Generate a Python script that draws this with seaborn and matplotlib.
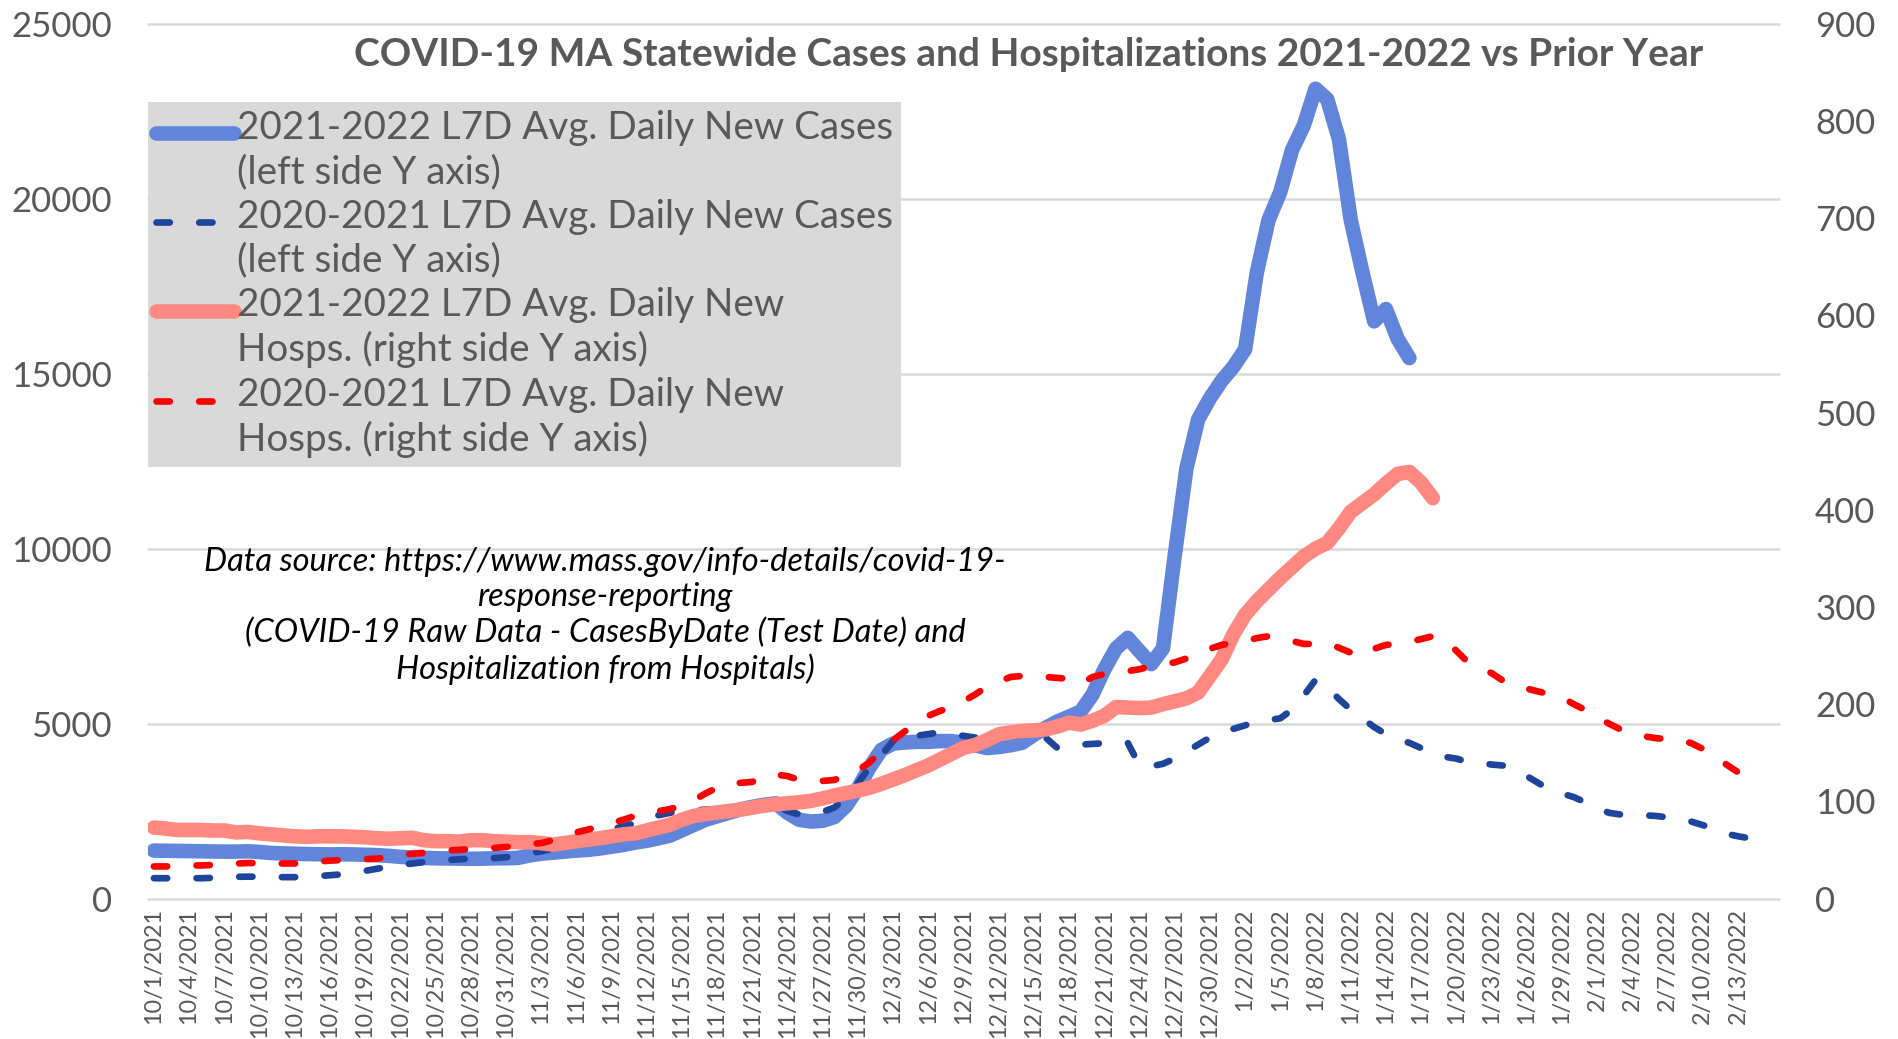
"""COVID-19 MA statewide cases and hospitalizations, 2021-2022 vs prior year."""

import matplotlib

matplotlib.use("Agg")
import matplotlib.pyplot as plt
import numpy as np
import pandas as pd
import seaborn as sns
from matplotlib.legend_handler import HandlerLine2D
from matplotlib.lines import Line2D

W, H = 1898, 1039
GRAY = "#595959"

# daily categories, 10/1/2021 .. 2/16/2022
DATES = pd.date_range("2021-10-01", "2022-02-16", freq="D")

# L7D avg daily new cases, 2021-2022 (left axis)
cases_2122 = [
    1370, 1365, 1360, 1355, 1350, 1345, 1340, 1340, 1350, 1330,
    1300, 1290, 1280, 1270, 1265, 1260, 1265, 1260, 1250, 1240,
    1220, 1190, 1170, 1160, 1150, 1145, 1140, 1135, 1140, 1150,
    1150, 1160, 1230, 1280, 1310, 1340, 1370, 1390, 1430, 1480,
    1530, 1600, 1650, 1720, 1800, 1950, 2100, 2250, 2350, 2450,
    2550, 2620, 2680, 2720, 2450, 2250, 2200, 2220, 2330, 2650,
    3150, 3750, 4250, 4430, 4460, 4480, 4480, 4500, 4500, 4450,
    4380, 4300, 4330, 4380, 4450, 4680, 4880, 5060, 5200, 5350,
    5830, 6550, 7150, 7450, 7070, 6700, 7150, 9800, 12300, 13700,
    14300, 14800, 15200, 15700, 17900, 19400, 20200, 21400, 22100, 23150,
    22850, 21700, 19400, 17900, 16500, 16850, 16000, 15450,
]

# L7D avg daily new cases, 2020-2021 (left axis)
cases_2021 = [
    580, 580, 580, 580, 580, 590, 600, 620, 625, 620,
    615, 610, 610, 620, 640, 665, 690, 740, 790, 850,
    910, 960, 1000, 1040, 1080, 1100, 1120, 1140, 1150, 1155,
    1180, 1230, 1290, 1350, 1420, 1500, 1600, 1720, 1850, 1980,
    2060, 2150, 2300, 2380, 2450, 2490, 2520, 2540, 2560, 2600,
    2650, 2700, 2700, 2650, 2500, 2400, 2420, 2480, 2600, 2900,
    3300, 3750, 4100, 4500, 4750, 4650, 4700, 4750, 4700, 4650,
    4600, 4600, 4600, 4650, 4650, 4650, 4600, 4300, 4350, 4400,
    4420, 4440, 4450, 4450, 3800, 3780, 3850, 4000, 4200, 4400,
    4600, 4750, 4850, 4950, 5050, 5100, 5150, 5400, 5800, 6250,
    6050, 5700, 5400, 5150, 4900, 4700, 4550, 4450, 4300, 4150,
    4050, 4000, 3900, 3870, 3830, 3800, 3700, 3500, 3300, 3100,
    3000, 2900, 2750, 2600, 2450, 2400, 2390, 2380, 2360, 2320,
    2280, 2200, 2100, 1980, 1850, 1780, 1720, 1640,
]

# L7D avg daily new hospitalizations, 2021-2022 (right axis)
hosp_2122 = [
    73, 72, 70.5, 70.5, 70.5, 70, 70, 68, 68.5, 67,
    66, 65, 64, 63.5, 64, 64, 64, 63.5, 63, 62,
    61.5, 62, 62.5, 60, 59, 59, 58.5, 60, 60, 59,
    58.5, 58, 58, 57, 55.5, 57, 59, 60.5, 62, 64,
    66, 67, 70, 73, 76, 81, 85, 87, 88.5, 90,
    91.5, 93.5, 95.5, 97, 98, 99, 100.5, 103, 106, 108.5,
    111, 114, 118, 122.5, 127, 132, 137, 143, 149, 155,
    158, 163, 169, 171, 172.5, 173, 174, 177, 181, 179,
    183, 188, 197, 196.5, 196, 196.5, 200, 203, 206, 212,
    229, 246, 272, 292, 306, 318, 330, 341, 352, 360,
    366, 381, 398, 407, 416, 427, 437, 439, 428, 412,
]

# L7D avg daily new hospitalizations, 2020-2021 (right axis)
hosp_2021 = [
    33, 33, 33.5, 34, 34, 34.5, 35, 36, 36.5, 36.5,
    36, 36, 36, 36.5, 38, 39, 39.5, 40, 40.5, 41,
    43, 45, 46, 47, 48.5, 49.5, 50, 51, 51.5, 52,
    53, 54.5, 56, 57, 60, 64, 68, 71, 74, 77.5,
    81, 85, 88.5, 90, 92, 96, 101, 108, 114, 118.5,
    119, 120, 126, 127.5, 126, 122, 121, 121, 122, 127,
    132, 140, 152, 163, 172, 181, 188, 193, 197, 203,
    210, 218, 223, 228, 229, 229, 228, 227, 226, 221,
    228, 231, 232, 234, 236, 239, 241, 243, 247, 250,
    257, 261, 263, 265, 268, 270, 268, 265, 262, 262,
    263, 258, 253, 249, 257, 261, 262, 264, 267, 270,
    266, 255, 243, 237, 232, 224, 219, 216, 213, 210,
    207, 200, 194, 187, 180, 174, 170, 167, 165, 164,
    163, 160, 154, 147, 138, 130,
]

LABELS = [
    "2021-2022 L7D Avg. Daily New Cases\n(left side Y axis)",
    "2020-2021 L7D Avg. Daily New Cases\n(left side Y axis)",
    "2021-2022 L7D Avg. Daily New\nHosps. (right side Y axis)",
    "2020-2021 L7D Avg. Daily New\nHosps. (right side Y axis)",
]
TITLE = "COVID-19 MA Statewide Cases and Hospitalizations 2021-2022 vs Prior Year"
SOURCE = ("Data source: https://www.mass.gov/info-details/covid-19-\n"
          "response-reporting\n"
          "(COVID-19 Raw Data - CasesByDate (Test Date) and\n"
          "Hospitalization from Hospitals)")

BLUE = "#6285dc"
NAVY = "#1f449c"
SALMON = "#ff8880"
RED = "#ff0000"


class FirstLineHandler(HandlerLine2D):
    """Put the legend sample level with the first line of a two-line label."""

    def __init__(self, shift, **kw):
        super().__init__(**kw)
        self.shift = shift

    def create_artists(self, legend, orig_handle, xdescent, ydescent,
                       width, height, fontsize, trans):
        arts = super().create_artists(legend, orig_handle, xdescent, ydescent,
                                      width, height, fontsize, trans)
        for a in arts:
            a.set_ydata(np.asarray(a.get_ydata(), dtype=float) + self.shift)
        return arts


def frame(vals):
    return pd.DataFrame({"day": np.arange(len(vals)), "value": vals})


def main() -> None:
    sns.set_theme(style="white")
    plt.rcParams["font.family"] = ["Lato", "DejaVu Sans"]

    fig = plt.figure(figsize=(W / 100, H / 100), dpi=100)
    ax = fig.add_axes([148 / W, 1 - 898.5 / H, (1779 - 148) / W, (898.5 - 24) / H])
    ax2 = ax.twinx()

    solid = dict(linewidth=10.5, solid_capstyle="round", solid_joinstyle="round")
    dashed = dict(linewidth=4.8, linestyle=(0, (2.0, 4.4)),
                  dash_capstyle="round", dash_joinstyle="round")

    sns.lineplot(data=frame(cases_2122), x="day", y="value", ax=ax, color=BLUE,
                 estimator=None, legend=False, **solid)
    sns.lineplot(data=frame(cases_2021), x="day", y="value", ax=ax, color=NAVY,
                 estimator=None, legend=False, **dashed)
    sns.lineplot(data=frame(hosp_2122), x="day", y="value", ax=ax2, color=SALMON,
                 estimator=None, legend=False, **solid)
    sns.lineplot(data=frame(hosp_2021), x="day", y="value", ax=ax2, color=RED,
                 estimator=None, legend=False, **dashed)

    ax.set_xlim(-0.5, len(DATES) - 0.5)
    ax.set_ylim(0, 25000)
    ax2.set_ylim(0, 900)
    ax.set_yticks(range(0, 25001, 5000))
    ax2.set_yticks(range(0, 901, 100))
    ticks = np.arange(0, 136, 3)
    ax.set_xticks(ticks)
    ax.set_xticklabels([f"{d.month}/{d.day}/{d.year}" for d in DATES[ticks]],
                       rotation=90)
    for a in (ax, ax2):
        a.set_xlabel("")
        a.set_ylabel("")
        for s in a.spines.values():
            s.set_visible(False)
        a.tick_params(axis="y", length=0, pad=26, labelsize=25, labelcolor=GRAY)
    ax.tick_params(axis="x", length=0, pad=7, labelsize=16.8, labelcolor=GRAY)
    ax.yaxis.grid(True, color="#d9d9d9", linewidth=1.8)
    ax.xaxis.grid(False)
    ax2.grid(False)
    for gl in ax.get_ygridlines():
        gl.set_clip_on(False)

    handles = [ax.lines[0], ax.lines[1], ax2.lines[0], ax2.lines[1]]
    leg = ax2.legend(handles, LABELS, loc="upper left",
                     bbox_to_anchor=(148 / W, 1 - 102 / H), bbox_transform=fig.transFigure,
                     fontsize=27.8, frameon=True, fancybox=False, framealpha=1,
                     facecolor="#d9d9d9", edgecolor="none", borderaxespad=0,
                     borderpad=0.22, handlelength=2.0, handletextpad=0.08,
                     labelspacing=0.22,
                     handler_map={Line2D: FirstLineHandler(shift=13)})
    for t in leg.get_texts():
        t.set_color(GRAY)
        t.set_linespacing(1.27)

    fig.text(1029 / W, 1 - 55 / H, TITLE, ha="center", va="center",
             fontsize=28, fontweight="bold", color=GRAY)
    fig.text(605 / W, 1 - 616 / H, SOURCE, ha="center", va="center",
             fontsize=23.5, style="italic", color="black", linespacing=1.2)

    fig.savefig("out.png", dpi=100)
    plt.close(fig)


if __name__ == "__main__":
    main()
